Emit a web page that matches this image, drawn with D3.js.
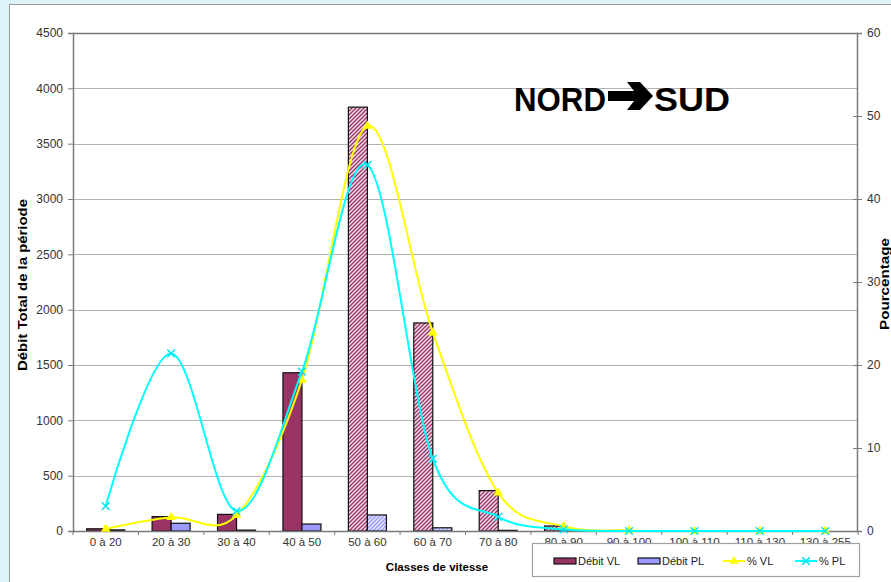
<!DOCTYPE html>
<html>
<head>
<meta charset="utf-8">
<script src="https://cdn.jsdelivr.net/npm/d3@7/dist/d3.min.js"></script>
<style>
  html, body { margin: 0; padding: 0; background: #ddf3f9; }
  svg { display: block; font-family: "Liberation Sans", Arial, sans-serif; }
</style>
</head>
<body>
<svg id="chart" width="891" height="582"></svg>
<script>
// speed classes
var categories = ['0 à 20', '20 à 30', '30 à 40', '40 à 50', '50 à 60', '60 à 70',
  '70 à 80', '80 à 90', '90 à 100', '100 à 110', '110 à 130', '130 à 255'];

// flows over the period (left axis)
var debitVL = [20, 130, 150, 1430, 3830, 1880, 365, 45, 5, 0, 0, 0];
var debitPL = [10, 70, 8, 63, 145, 29, 6, 2, 0, 0, 0, 0];

// share of each class (right axis)
var pctVL = [0.25, 1.65, 1.9, 18.2, 48.8, 23.9, 4.6, 0.57, 0.06, 0, 0, 0];
var pctPL = [3.0, 21.4, 2.4, 19.2, 44.1, 8.7, 1.7, 0.2, 0, 0, 0, 0];

// bars drawn hatched instead of solid
var hatchedVL = [false, false, false, false, true, true, true, true, true, true, true, true];
var hatchedPL = [false, false, false, false, true, true, true, true, true, true, true, true];

var leftTicks = d3.range(0, 4501, 500);
var rightTicks = d3.range(0, 61, 10);

var svg = d3.select('#chart');
var margin = {left: 73, right: 858, top: 33, bottom: 531};

var x = d3.scaleBand().domain(categories).range([margin.left, margin.right]).padding(0);
var sub = d3.scaleBand().domain(['VL', 'PL']).range([0, x.bandwidth()])
  .paddingInner(0).paddingOuter(0.72);
var yLeft = d3.scaleLinear().domain([0, 4500]).range([margin.bottom, margin.top]);
var yRight = d3.scaleLinear().domain([0, 60]).range([margin.bottom, margin.top]);

// white panel
svg.append('rect')
  .attr('x', 9.5).attr('y', 4.5).attr('width', 900).attr('height', 600)
  .attr('fill', '#fff').attr('stroke', '#9a9a9a');

// hatch patterns
var defs = svg.append('defs');
function hatch(id, bg, fg) {
  var p = defs.append('pattern')
    .attr('id', id).attr('patternUnits', 'userSpaceOnUse')
    .attr('width', 4).attr('height', 4);
  p.append('rect').attr('width', 4).attr('height', 4).attr('fill', bg);
  p.append('path').attr('d', 'M-1,1 l2,-2 M0,4 l4,-4 M3,5 l2,-2')
    .attr('stroke', fg).attr('stroke-width', 1.3);
}
hatch('hatchVL', '#f4dce8', '#993366');
hatch('hatchPL', '#e6e6ff', '#9999ff');

// gridlines
svg.append('g')
  .selectAll('line')
  .data(leftTicks.filter(function (d) { return d > 0; }))
  .enter()
  .append('line')
  .attr('x1', margin.left).attr('x2', margin.right)
  .attr('y1', function (d) { return Math.round(yLeft(d)) + 0.5; })
  .attr('y2', function (d) { return Math.round(yLeft(d)) + 0.5; })
  .attr('stroke', function (d) { return d === 4500 ? '#777' : '#b4b4b4'; })
  .attr('stroke-width', function (d) { return d === 4500 ? 1.5 : 1.2; });

// bars
var bars = svg.append('g');
bars.selectAll('rect.vl')
  .data(debitVL)
  .enter()
  .append('rect')
  .attr('class', 'vl')
  .attr('x', function (d, i) { return x(categories[i]) + sub('VL'); })
  .attr('y', function (d) { return yLeft(d); })
  .attr('width', sub.bandwidth())
  .attr('height', function (d) { return yLeft(0) - yLeft(d); })
  .attr('fill', function (d, i) { return hatchedVL[i] ? 'url(#hatchVL)' : '#993366'; })
  .attr('stroke', '#111').attr('stroke-width', 1.2);

bars.selectAll('rect.pl')
  .data(debitPL)
  .enter()
  .append('rect')
  .attr('class', 'pl')
  .attr('x', function (d, i) { return x(categories[i]) + sub('PL'); })
  .attr('y', function (d) { return yLeft(d); })
  .attr('width', sub.bandwidth())
  .attr('height', function (d) { return yLeft(0) - yLeft(d); })
  .attr('fill', function (d, i) { return hatchedPL[i] ? 'url(#hatchPL)' : '#9999ff'; })
  .attr('stroke', '#111').attr('stroke-width', 1.2);

// axes
var axisColor = '#7a7a7a';
var gl = svg.append('g').attr('transform', 'translate(' + margin.left + ',0)')
  .call(d3.axisLeft(yLeft).tickValues(leftTicks).tickFormat(d3.format('d'))
    .tickSize(5).tickPadding(5));
var gr = svg.append('g').attr('transform', 'translate(' + (margin.right - 1) + ',0)')
  .call(d3.axisRight(yRight).tickValues(rightTicks).tickSize(5).tickPadding(5));
var gx = svg.append('g').attr('transform', 'translate(0,' + margin.bottom + ')')
  .call(d3.axisBottom(x).tickSize(0).tickPadding(7));

// small ticks between categories
gx.selectAll('line.sep')
  .data(categories.concat(['end']))
  .enter()
  .append('line')
  .attr('class', 'sep')
  .attr('x1', function (d, i) { return margin.left + i * x.step(); })
  .attr('x2', function (d, i) { return margin.left + i * x.step(); })
  .attr('y1', 0).attr('y2', 4)
  .attr('stroke', axisColor);

gr.selectAll('.tick line').attr('x1', -4);
[gl, gr, gx].forEach(function (g) {
  g.select('.domain').attr('stroke', axisColor).attr('stroke-width', 1.5);
  g.selectAll('.tick line').attr('stroke', axisColor);
  g.selectAll('text').attr('fill', '#333').attr('font-size', 12)
    .attr('font-family', '"Liberation Sans", Arial, sans-serif');
});
gx.selectAll('text').attr('font-size', 11.5);

// percentage curves
var line = function (vals) {
  return d3.line()
    .x(function (d, i) { return x(categories[i]) + x.bandwidth() / 2; })
    .y(function (d) { return yRight(d); })
    .curve(d3.curveCatmullRom.alpha(0))(vals);
};

svg.append('path').attr('d', line(pctVL))
  .attr('fill', 'none').attr('stroke', '#ffff00').attr('stroke-width', 2);
svg.append('g').selectAll('path')
  .data(pctVL)
  .enter()
  .append('path')
  .attr('transform', function (d, i) {
    return 'translate(' + (x(categories[i]) + x.bandwidth() / 2) + ',' + yRight(d) + ')';
  })
  .attr('d', d3.symbol().type(d3.symbolTriangle).size(40))
  .attr('fill', '#ffff00');

svg.append('path').attr('d', line(pctPL))
  .attr('fill', 'none').attr('stroke', '#00ffff').attr('stroke-width', 2);
svg.append('g').selectAll('path')
  .data(pctPL)
  .enter()
  .append('path')
  .attr('transform', function (d, i) {
    return 'translate(' + (x(categories[i]) + x.bandwidth() / 2) + ',' + yRight(d) + ')';
  })
  .attr('d', d3.symbol().type(d3.symbolTimes).size(40))
  .attr('fill', 'none').attr('stroke', '#00e5ee').attr('stroke-width', 1.5);

// axis titles
svg.append('text')
  .attr('transform', 'translate(27,285) rotate(-90)')
  .attr('text-anchor', 'middle').attr('font-weight', 'bold').attr('font-size', 13)
  .attr('textLength', 172).attr('lengthAdjust', 'spacingAndGlyphs')
  .text('Débit Total de la période');
svg.append('text')
  .attr('transform', 'translate(889,284) rotate(-90)')
  .attr('text-anchor', 'middle').attr('font-weight', 'bold').attr('font-size', 13)
  .attr('textLength', 92).attr('lengthAdjust', 'spacingAndGlyphs')
  .text('Pourcentage');
svg.append('text')
  .attr('x', 437).attr('y', 571)
  .attr('text-anchor', 'middle').attr('font-weight', 'bold').attr('font-size', 11.5)
  .text('Classes de vitesse');

// direction label: NORD, heavy arrow, SUD
var dirStyle = function (t) {
  return t.attr('font-weight', 'bold').attr('font-size', 33).attr('fill', '#000')
    .attr('lengthAdjust', 'spacingAndGlyphs');
};
dirStyle(svg.append('text').attr('x', 514).attr('y', 111)).attr('textLength', 92).text('NORD');
dirStyle(svg.append('text').attr('x', 654).attr('y', 111)).attr('textLength', 76).text('SUD');
svg.append('path')
  .attr('d', 'M608,91 L634,91 L627,82 L640,82 L653,96 L640,110 L627,110 L634,101 L608,101 Z')
  .attr('fill', '#000');

// legend
var legend = svg.append('g');
legend.append('rect')
  .attr('x', 532.5).attr('y', 543.5).attr('width', 327).attr('height', 33)
  .attr('fill', '#fff').attr('stroke', '#a0a0a0').attr('stroke-width', 1.2);

var legendItems = [
  {label: 'Débit VL', kind: 'bar', color: '#993366', x: 554},
  {label: 'Débit PL', kind: 'bar', color: '#9999ff', x: 638},
  {label: '% VL', kind: 'tri', color: '#ffff00', x: 723},
  {label: '% PL', kind: 'times', color: '#00ffff', x: 795}
];
var li = legend.selectAll('g.item')
  .data(legendItems)
  .enter()
  .append('g')
  .attr('class', 'item')
  .attr('transform', function (d) { return 'translate(' + d.x + ',561)'; });
li.filter(function (d) { return d.kind === 'bar'; })
  .append('rect')
  .attr('x', 0).attr('y', -3).attr('width', 22).attr('height', 6)
  .attr('fill', function (d) { return d.color; })
  .attr('stroke', '#111').attr('stroke-width', 1.2);
li.filter(function (d) { return d.kind !== 'bar'; })
  .append('line')
  .attr('x1', 0).attr('x2', 22).attr('y1', 0).attr('y2', 0)
  .attr('stroke', function (d) { return d.color; }).attr('stroke-width', 2);
li.filter(function (d) { return d.kind === 'tri'; })
  .append('path')
  .attr('transform', 'translate(11,0)')
  .attr('d', d3.symbol().type(d3.symbolTriangle).size(36))
  .attr('fill', '#ffff00');
li.filter(function (d) { return d.kind === 'times'; })
  .append('path')
  .attr('transform', 'translate(11,0)')
  .attr('d', d3.symbol().type(d3.symbolTimes).size(36))
  .attr('fill', 'none').attr('stroke', '#00e5ee').attr('stroke-width', 1.5);
li.append('text')
  .attr('x', 24).attr('y', 4)
  .attr('font-size', 11).attr('fill', '#222')
  .text(function (d) { return d.label; });
</script>
</body>
</html>
